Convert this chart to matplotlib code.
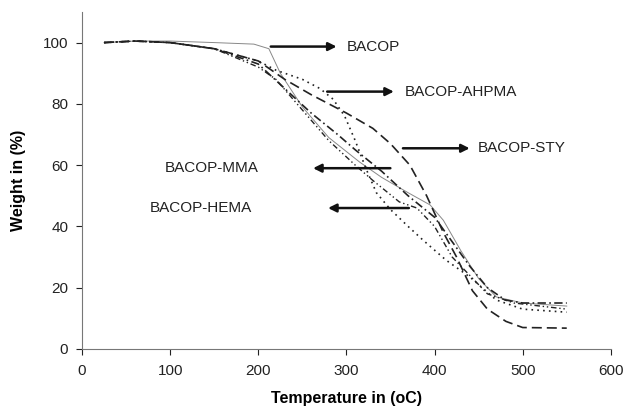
import matplotlib.pyplot as plt
import numpy as np

plt.rcParams['font.family'] = ['Liberation Sans', 'DejaVu Sans']

# TGA curves (temperature in C, weight in %)
t_bacop = [25, 60, 100, 150, 195, 212, 225, 250, 280, 315, 340, 370, 395, 410, 430, 450, 470, 500, 550]
w_bacop = [100, 100.5, 100.5, 100, 99.5, 98, 90, 79, 69, 61, 56, 51, 47, 42, 32, 23, 17, 15, 14]

t_sty = [25, 60, 100, 150, 200, 230, 260, 300, 330, 350, 372, 391, 410, 425, 443, 460, 481, 500, 550]
w_sty = [100, 100.5, 100, 98, 94, 88, 83, 77, 72, 67, 60, 50, 38, 30, 19, 13, 9, 7, 6.8]

t_ahpma = [25, 60, 100, 150, 200, 220, 250, 270, 285, 298, 310, 322, 334, 350, 370, 387, 413, 440, 470, 500, 550]
w_ahpma = [100, 100.5, 100, 98, 94, 91, 88, 85, 81.5, 76, 68, 59, 51, 45.5, 40, 35.5, 29, 23.5, 16, 13, 12]

t_mma = [25, 60, 100, 150, 200, 230, 260, 290, 310, 340, 370, 400, 420, 440, 460, 480, 500, 550]
w_mma = [100, 100.5, 100, 98, 93, 85, 77, 70, 65, 58, 50, 43, 35, 27, 20, 16, 15, 15]

t_hema = [25, 60, 100, 150, 200, 220, 250, 280, 310, 330, 360, 380, 400, 420, 440, 460, 490, 550]
w_hema = [100, 100.5, 100, 98, 92, 88, 78, 68, 60, 55, 48, 46, 40, 30, 24, 18, 15, 13]

fig = plt.figure(figsize=(6.31, 4.12), dpi=100)
ax = fig.add_axes([0.13, 0.153, 0.838, 0.818])

ax.plot(t_bacop, w_bacop, color='#888888', lw=0.7, ls='-')
ax.plot(t_sty, w_sty, color='#222222', lw=1.2, ls=(0, (6, 3)))
ax.plot(t_ahpma, w_ahpma, color='#222222', lw=1.2, ls=(0, (1, 2.5)))
ax.plot(t_mma, w_mma, color='#222222', lw=1.2, ls=(0, (5, 2, 1, 2)))
ax.plot(t_hema, w_hema, color='#222222', lw=1.0, ls=(0, (4, 2, 1, 2, 1, 2)))

arrow = dict(arrowstyle='-|>', color='#111111', lw=1.8, mutation_scale=12)

def label(text, tail, head, tx, ty):
    ax.annotate('', xy=head, xytext=tail, arrowprops=arrow)
    ax.text(tx, ty, text, fontsize=11, va='center', ha='left', color='#222222')

label('BACOP', (211, 98.7), (292, 98.7), 300, 98.7)
label('BACOP-AHPMA', (275, 84), (357, 84), 366, 84)
label('BACOP-STY', (361, 65.5), (443, 65.5), 449, 65.5)
label('BACOP-MMA', (353, 59), (259, 59), 94, 59)
label('BACOP-HEMA', (374, 46), (276, 46), 77, 46)

ax.set_xlim(0, 600)
ax.set_ylim(0, 110)
ax.set_xticks(np.arange(0, 601, 100))
ax.set_yticks(np.arange(0, 101, 20))
ax.tick_params(labelsize=11, colors='#222222', length=4, width=0.8)
ax.tick_params(axis='x', pad=7)
ax.tick_params(axis='y', pad=6)
for s in ['top', 'right']:
    ax.spines[s].set_visible(False)
for s in ['left', 'bottom']:
    ax.spines[s].set_color('#777777')
    ax.spines[s].set_linewidth(0.8)

ax.set_xlabel('Temperature in (oC)', fontsize=11.5, fontweight='bold', labelpad=9)
ax.set_ylabel('Weight in (%)', fontsize=11.5, fontweight='bold', labelpad=12)

fig.savefig('out.png', dpi=100)
